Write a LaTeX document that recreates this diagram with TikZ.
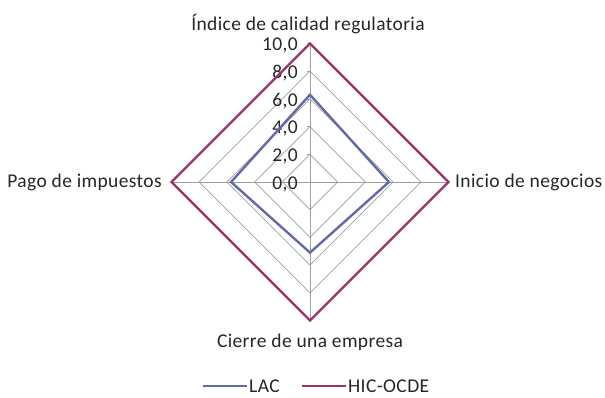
\documentclass[tikz,border=0pt]{standalone}
\usepackage{fontspec}
\setmainfont[LetterSpace=2]{Carlito}
\usetikzlibrary{positioning}
\definecolor{lacblue}{RGB}{98,107,170}
\definecolor{hicpurple}{RGB}{153,51,102}

\begin{document}
\begin{tikzpicture}[x=1pt,y=1pt,font=\fontsize{19.5}{22}\selectfont,
  grid/.style={gray!75,line width=0.7pt},
  serie/.style={line width=2.4pt,line join=miter},
  lbl/.style={inner sep=2pt,text=black!85}]
  \useasboundingbox (0,0) rectangle (605,398);
  \begin{scope}[shift={(310,216)}]
    % anillos y ejes
    \foreach \v in {2,4,...,10}
      \draw[grid] (90:\v*13.85) -- (0:\v*13.85) -- (-90:\v*13.85)
        -- (180:\v*13.85) -- cycle;
    \foreach \a in {0,90,180,270}
      \draw[grid] (0,0) -- (\a:138.5);
    \foreach \v in {0,2,...,10}{
      \draw[grid] (-3,\v*13.85) -- (0,\v*13.85);
      \node[lbl,anchor=east] (t\v) at (-10,\v*13.85-2) {\v,0};
    }
    % series
    \draw[serie,hicpurple] (90:138.5) -- (0:138.5) -- (-90:138.5)
      -- (180:138.5) -- cycle;
    \draw[serie,lacblue] (90:6.3*13.85) -- (0:5.7*13.85) -- (-90:5.1*13.85)
      -- (180:5.7*13.85) -- cycle;
    % ejes
    \node[lbl] (indice) at (-2,158) {Índice de calidad regulatoria};
    \node[lbl,anchor=west] (inicio) at (143,0) {Inicio de negocios};
    \node[lbl] (cierre) at (0,-160) {Cierre de una empresa};
    \node[lbl,anchor=east] (pago) at (-146,0) {Pago de impuestos};
  \end{scope}
  % leyenda
  \coordinate (lacA) at (203,12);
  \coordinate (hicA) at (302,12);
  \draw[serie,lacblue] (lacA) -- ++(44,0) coordinate (lacB);
  \node[lbl,inner sep=0pt,anchor=west,xshift=2pt] (lac) at (lacB) {LAC};
  \draw[serie,hicpurple] (hicA) -- ++(44,0) coordinate (hicB);
  \node[lbl,inner sep=0pt,anchor=west,xshift=2pt] (hic) at (hicB) {HIC-OCDE};
\end{tikzpicture}
\end{document}
